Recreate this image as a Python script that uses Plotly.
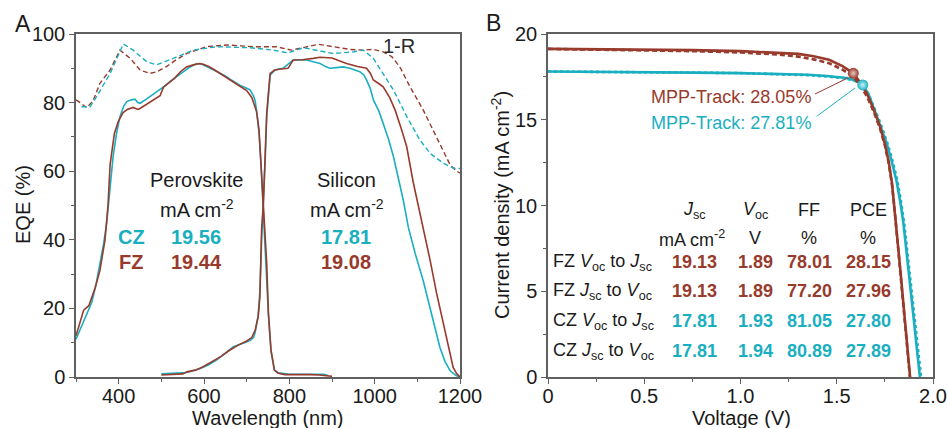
import plotly.graph_objects as go

W, H = 948, 428
BROWN = '#983A2C'
CYAN = '#1AAFC0'
FONT = 'Liberation Sans, Arial, sans-serif'

# ---------------- Panel A data (EQE) ----------------
fz_pero_wl = [300, 310, 318, 330, 345, 356, 368, 375, 380, 390, 399, 410, 420, 434, 445, 450, 465, 480, 497, 505, 515, 530, 545, 559, 575, 590, 598, 610, 625, 640, 653, 670, 684, 700, 712, 723, 729, 733.6, 737.5, 741.3, 747, 751, 757, 765, 774, 790, 820, 850, 870, 890, 900]
fz_pero_eqe = [12.0, 16, 19.5, 20.8, 26, 31, 40, 50, 62, 71, 74.5, 77, 78, 78.6, 78.0, 78.3, 79.5, 80.5, 82, 84.5, 85.5, 87, 89, 90.4, 91, 91.4, 91.2, 90.6, 89.5, 88.3, 87.5, 86, 85, 83.5, 81.5, 77.5, 72, 62.3, 52.6, 46.7, 33, 18.6, 7.9, 2, 1.1, 0.7, 0.8, 0.7, 0.6, 0.4, 0.2]

fz_si_wl = [500, 520, 550, 560, 580, 598, 620, 640, 660, 680, 700, 712, 720, 727, 731, 735, 739, 743, 747, 755, 766, 780, 797, 809, 830, 856, 872, 900, 934, 960, 981, 990, 997, 1010, 1020, 1035, 1048, 1062, 1075, 1090, 1106, 1114, 1130, 1145, 1161, 1175, 1184, 1192, 1200]
fz_si_eqe = [0.6, 0.7, 0.9, 1.5, 2.0, 3.0, 4.5, 6.0, 7.8, 9.3, 10.5, 11.5, 13.7, 17.6, 23.4, 42.9, 50, 62.3, 76.9, 88.5, 89.5, 89.8, 90, 92.4, 92.5, 92.9, 93.2, 93, 91.4, 90.5, 90, 88.5, 86.6, 85.5, 84.6, 81.5, 77.8, 72.5, 67.2, 57, 47.7, 43.6, 34, 24.5, 15.5, 7, 2.8, 1, 0]

cz_pero_wl = [300, 310, 320, 337, 347, 356, 365, 372, 380, 387, 395, 403, 412, 419, 430, 438, 445, 450, 465, 480, 497, 510, 520, 535, 551, 565, 583, 595, 610, 630, 650, 665, 684, 700, 708, 716, 720, 725, 729, 733.6, 737.5, 741.3, 747, 751, 757, 765, 774, 800, 830, 860, 880, 890]
cz_pero_eqe = [11, 14, 17, 21.8, 27, 33, 39, 45, 56, 64.3, 71, 75.9, 79, 80.3, 80.8, 81, 80, 79.8, 81, 82.3, 83.7, 85, 86.1, 87.5, 89, 90.2, 91.4, 91.2, 90.3, 89, 87.8, 86.5, 85.1, 84.2, 83.7, 82, 80.5, 76, 71, 62, 52, 46, 32, 18, 7.5, 2, 1.2, 0.8, 0.8, 0.7, 0.8, 0.5]

cz_si_wl = [500, 530, 560, 591, 610, 630, 650, 669, 690, 708, 716, 720, 727, 731, 735, 739, 743, 747, 755, 766, 785, 800, 809, 840, 856, 872, 885, 895, 910, 926, 942, 955, 965, 975, 981, 990, 997, 1010, 1020, 1032, 1044, 1056, 1067, 1079, 1095, 1114, 1130, 1145, 1153, 1165, 1177, 1190, 1198]
cz_si_eqe = [0.9, 1.0, 1.3, 2.5, 3.5, 5, 7, 8.8, 9.8, 10.6, 11.5, 13, 18, 25, 40, 50, 62, 76, 88, 89.5, 90, 91.5, 92.4, 92.4, 92, 91.4, 90.5, 90, 90.2, 90.4, 90, 89.5, 89, 88, 86.6, 84, 80.8, 77.5, 74, 69.5, 64.3, 58, 51.6, 43.6, 36, 28, 20, 12.5, 8.6, 4.5, 1.8, 0.5, 0]

fz_1mr_wl = [300, 310, 325, 340, 356, 380, 403, 427, 450, 473, 490, 512, 535, 559, 606, 653, 716, 770, 805, 840, 868, 903, 942, 973, 997, 1020, 1040, 1059, 1083, 1114, 1137, 1161, 1177, 1190, 1200]
fz_1mr = [80.8, 80.0, 78.5, 80.5, 85.6, 89.5, 95.3, 92.9, 89.5, 88.5, 89.0, 90.5, 92.5, 94.3, 96.3, 96.8, 96.3, 96.3, 95.3, 96.3, 97.0, 96.3, 95.5, 95.3, 95.5, 94.8, 93.4, 90.4, 84.6, 77.8, 72.0, 66.2, 61.8, 60.3, 59.4]

cz_1mr_wl = [313, 333, 348, 380, 411, 434, 466, 489, 528, 575, 630, 708, 762, 797, 833, 872, 903, 950, 973, 997, 1020, 1044, 1075, 1106, 1130, 1161, 1184, 1200]
cz_1mr = [78.8, 78.8, 81.7, 88.5, 97.1, 95.3, 91.9, 91.0, 92.9, 95.3, 96.3, 96.0, 95.3, 94.5, 96.0, 95.0, 94.3, 94.8, 95.3, 92.9, 88.5, 83.7, 76.0, 69.1, 65.2, 62.3, 60.9, 60.8]

# ---------------- Panel B data (J-V) ----------------
fz_fwd_v = [0, 0.25, 0.5, 0.75, 1.0, 1.2, 1.3, 1.38, 1.46, 1.53, 1.586, 1.62, 1.656, 1.69, 1.725, 1.75, 1.77, 1.787, 1.803, 1.829, 1.855, 1.881]
fz_fwd_j = [19.13, 19.12, 19.1, 19.06, 19.0, 18.92, 18.84, 18.7, 18.5, 18.13, 17.71, 17.2, 16.54, 15.65, 14.6, 13.6, 12.55, 11.3, 9.54, 6.4, 3.2, 0]
fz_rev_v = [0, 0.25, 0.5, 0.75, 1.0, 1.2, 1.3, 1.38, 1.46, 1.53, 1.586, 1.62, 1.656, 1.69, 1.725, 1.75, 1.77, 1.787, 1.803, 1.829, 1.855, 1.88]
fz_rev_j = [19.13, 19.1, 19.06, 19.0, 18.92, 18.8, 18.68, 18.52, 18.3, 17.92, 17.5, 17.02, 16.38, 15.52, 14.48, 13.5, 12.45, 11.2, 9.45, 6.3, 3.1, 0]
cz_fwd_v = [0, 0.25, 0.5, 0.75, 1.0, 1.2, 1.35, 1.45, 1.552, 1.6, 1.635, 1.665, 1.69, 1.725, 1.759, 1.785, 1.811, 1.83, 1.846, 1.875, 1.903, 1.932]
cz_fwd_j = [17.81, 17.8, 17.78, 17.75, 17.72, 17.68, 17.62, 17.55, 17.43, 17.28, 17.03, 16.5, 15.76, 14.75, 13.63, 12.6, 11.4, 10.2, 9.0, 6.0, 3.0, 0]
cz_rev_v = [0, 0.25, 0.5, 0.75, 1.0, 1.2, 1.35, 1.45, 1.552, 1.6, 1.635, 1.665, 1.69, 1.725, 1.759, 1.785, 1.811, 1.83, 1.85, 1.88, 1.91, 1.938]
cz_rev_j = [17.81, 17.8, 17.78, 17.75, 17.72, 17.67, 17.6, 17.52, 17.4, 17.24, 17.0, 16.5, 15.8, 14.85, 13.78, 12.8, 11.65, 10.5, 9.0, 6.0, 3.0, 0]

mpp_v = [1.586, 1.635]
mpp_j = [17.71, 17.03]
mpp_labels = ['MPP-Track: 28.05%', 'MPP-Track: 27.81%']

table_cols = ['<i>J</i><sub>sc</sub>', '<i>V</i><sub>oc</sub>', 'FF', 'PCE']
table_units = ['mA cm<sup>-2</sup>', 'V', '%', '%']
table_rows = ['FZ <i>V</i><sub>oc</sub> to <i>J</i><sub>sc</sub>', 'FZ <i>J</i><sub>sc</sub> to <i>V</i><sub>oc</sub>',
              'CZ <i>V</i><sub>oc</sub> to <i>J</i><sub>sc</sub>', 'CZ <i>J</i><sub>sc</sub> to <i>V</i><sub>oc</sub>']
table_vals = [['19.13', '1.89', '78.01', '28.15'],
              ['19.13', '1.89', '77.20', '27.96'],
              ['17.81', '1.93', '81.05', '27.80'],
              ['17.81', '1.94', '80.89', '27.89']]
row_colors = [BROWN, BROWN, CYAN, CYAN]

# ---------------- figure ----------------
fig = go.Figure()

def px(x):
    return x / W

def py(y):
    return 1 - y / H

# Panel A
fig.add_trace(go.Scatter(x=fz_1mr_wl, y=fz_1mr, mode='lines', line=dict(color=BROWN, width=1.4, dash='5px,3px'), xaxis='x', yaxis='y'))
fig.add_trace(go.Scatter(x=cz_1mr_wl, y=cz_1mr, mode='lines', line=dict(color=CYAN, width=1.4, dash='5px,3px'), xaxis='x', yaxis='y'))
fig.add_trace(go.Scatter(x=cz_pero_wl, y=cz_pero_eqe, mode='lines', line=dict(color=CYAN, width=1.6), xaxis='x', yaxis='y'))
fig.add_trace(go.Scatter(x=cz_si_wl, y=cz_si_eqe, mode='lines', line=dict(color=CYAN, width=1.6), xaxis='x', yaxis='y'))
fig.add_trace(go.Scatter(x=fz_pero_wl, y=fz_pero_eqe, mode='lines', line=dict(color=BROWN, width=1.6), xaxis='x', yaxis='y'))
fig.add_trace(go.Scatter(x=fz_si_wl, y=fz_si_eqe, mode='lines', line=dict(color=BROWN, width=1.6), xaxis='x', yaxis='y'))

# Panel B
fig.add_trace(go.Scatter(x=cz_fwd_v, y=cz_fwd_j, mode='lines', line=dict(color=CYAN, width=2.6), xaxis='x2', yaxis='y2'))
fig.add_trace(go.Scatter(x=cz_rev_v, y=cz_rev_j, mode='lines', line=dict(color=CYAN, width=2.6, dash='3px,3px'), xaxis='x2', yaxis='y2'))
fig.add_trace(go.Scatter(x=fz_fwd_v, y=fz_fwd_j, mode='lines', line=dict(color=BROWN, width=2.6), xaxis='x2', yaxis='y2'))
fig.add_trace(go.Scatter(x=fz_rev_v, y=fz_rev_j, mode='lines', line=dict(color=BROWN, width=2.6, dash='5px,3px'), xaxis='x2', yaxis='y2'))
fig.add_trace(go.Scatter(x=mpp_v, y=mpp_j, mode='markers',
                         marker=dict(size=11, color=[BROWN, CYAN], line=dict(width=0),
                                     gradient=dict(type='radial', color=['#e8c8c0', '#c8f4f8'])),
                         xaxis='x2', yaxis='y2'))

axis_common = dict(showline=True, linecolor='#606060', linewidth=1.5, mirror=True, ticks='outside',
                   ticklen=5, tickwidth=1.2, tickcolor='#606060', showgrid=False, zeroline=False,
                   tickfont=dict(family=FONT, size=20, color='#1a1a1a'), automargin=False)

yd = [py(377), py(34)]
fig.update_layout(
    width=W, height=H, margin=dict(l=0, r=0, t=0, b=0),
    paper_bgcolor='white', plot_bgcolor='white', showlegend=False,
    font=dict(family=FONT, color='#1a1a1a'),
    xaxis=dict(domain=[px(76), px(460)], range=[300, 1200], dtick=200, tick0=0, ticklabelstandoff=-5,
               minor=dict(dtick=100, ticklen=3, ticks='outside', tickcolor='#606060'), anchor='y', **axis_common),
    yaxis=dict(domain=yd, range=[0, 100], dtick=20,
               minor=dict(dtick=10, ticklen=3, ticks='outside', tickcolor='#606060'), anchor='x', **axis_common),
    xaxis2=dict(domain=[px(548), px(933)], range=[0, 2.0], tickvals=[0, 0.5, 1.0, 1.5, 2.0],
                ticktext=['0', '0.5', '1.0', '1.5', '2.0'], ticklabelstandoff=-5,
                minor=dict(tickvals=[0.25, 0.75, 1.25, 1.75], ticklen=3, ticks='outside', tickcolor='#606060'), anchor='y2', **axis_common),
    yaxis2=dict(domain=yd, range=[0, 20], dtick=5,
                minor=dict(dtick=2.5, ticklen=3, ticks='outside', tickcolor='#606060'), anchor='x2', **axis_common),
)

ann = []
def txt(x, y, s, size=20, color='#1a1a1a', xanchor='center', bold=False, angle=0):
    if bold:
        s = '<b>' + s + '</b>'
    ann.append(dict(x=px(x), y=py(y), xref='paper', yref='paper', text=s, showarrow=False,
                    xanchor=xanchor, yanchor='middle', textangle=angle,
                    font=dict(family=FONT, size=size, color=color)))

# panel letters and axis titles
txt(23, 24, 'A', size=23)
txt(494, 23, 'B', size=23)
txt(268, 418, 'Wavelength (nm)')
txt(741, 418, 'Voltage (V)')
txt(23, 205, 'EQE (%)', angle=-90)
txt(500, 205, 'Current density (mA cm<sup>-2</sup>)', angle=-90)

# panel A labels
txt(196, 180, 'Perovskite')
txt(197, 208, 'mA cm<sup>-2</sup>')
txt(346, 180, 'Silicon')
txt(347, 208, 'mA cm<sup>-2</sup>')
txt(131, 237, 'CZ', color=CYAN, bold=True)
txt(131, 262, 'FZ', color=BROWN, bold=True)
txt(196, 237, '19.56', color=CYAN, bold=True)
txt(196, 262, '19.44', color=BROWN, bold=True)
txt(346, 237, '17.81', color=CYAN, bold=True)
txt(346, 262, '19.08', color=BROWN, bold=True)
txt(399, 46, '1-R', color='#2a2a2a')

# panel B MPP labels
txt(813, 97, mpp_labels[0], size=18, color=BROWN, xanchor='right')
txt(813, 123, mpp_labels[1], size=18, color=CYAN, xanchor='right')

# table
col_x = [694, 755, 809, 868]
for cx, h, u in zip(col_x, table_cols, table_units):
    txt(cx, 210, h, size=18)
    txt(cx - (2 if u.startswith('mA') else 0), 238, u, size=18)
row_y = [262, 291, 321, 351]
for ry, lab, vals, c in zip(row_y, table_rows, table_vals, row_colors):
    txt(551, ry, lab, size=18, xanchor='left')
    for cx, v in zip(col_x, vals):
        txt(cx, ry, v, size=18, color=c, bold=True)

fig.update_layout(annotations=ann)

# leader lines from MPP labels to MPP points
fig.add_shape(type='line', xref='x2', yref='y2', x0=1.387, y0=16.5, x1=1.56, y1=17.45,
              line=dict(color=BROWN, width=1))
fig.add_shape(type='line', xref='x2', yref='y2', x0=1.396, y0=15.2, x1=1.595, y1=16.85,
              line=dict(color=CYAN, width=1))

fig.write_html('out.html', config={'displayModeBar': False},
               post_script="document.body.style.margin='0';document.body.style.overflow='hidden';")
